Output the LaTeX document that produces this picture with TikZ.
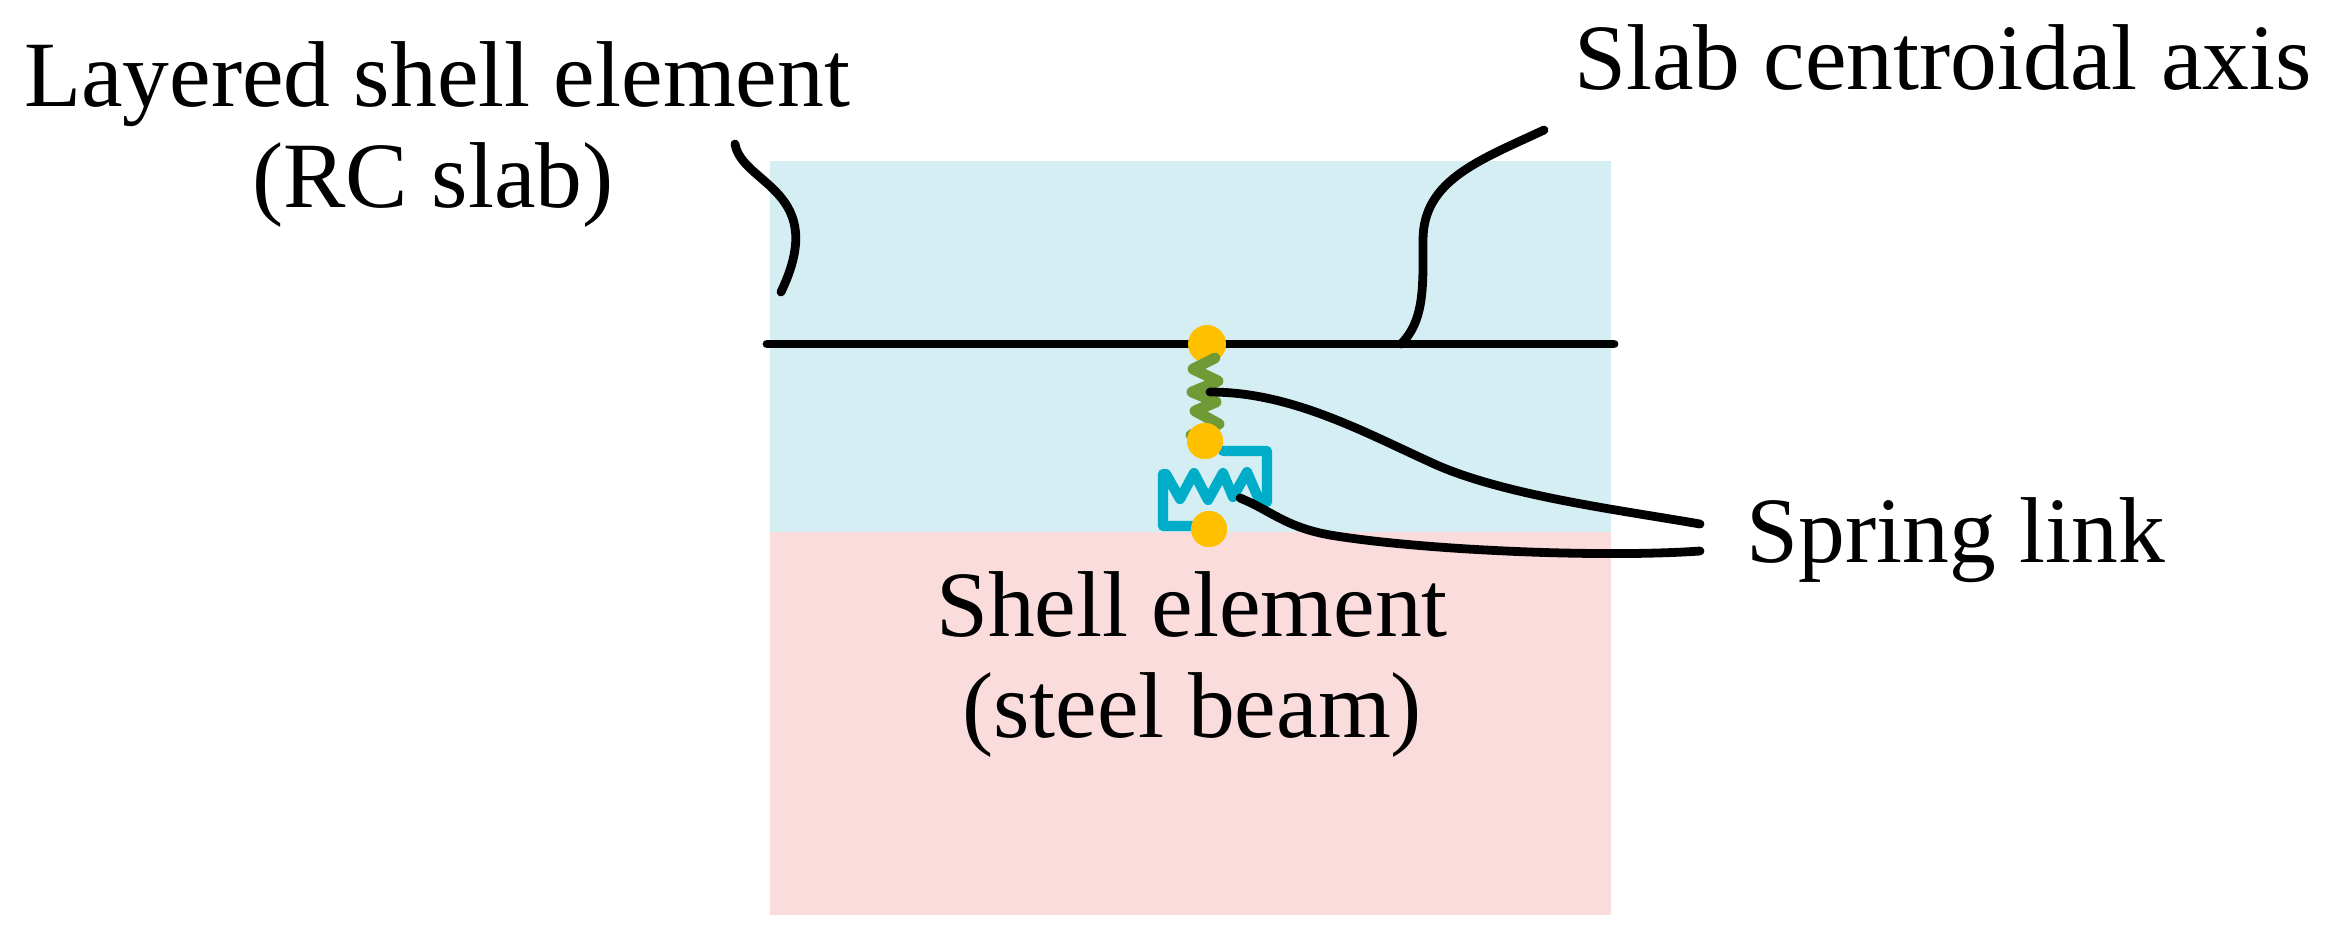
\documentclass[tikz,border=0pt]{standalone}
\usepackage{fontspec}
\setmainfont{Liberation Serif}
\usetikzlibrary{positioning,calc}
\definecolor{slabblue}{HTML}{D5EEF3}
\definecolor{beampink}{HTML}{F9DCDB}
\definecolor{dotyellow}{HTML}{FFC000}
\definecolor{springgreen}{HTML}{6F9A36}
\definecolor{springcyan}{HTML}{00ADC9}
\tikzset{
  lbl/.style={font=\fontsize{26.6}{30}\selectfont, anchor=base, inner sep=0pt},
  leader/.style={line width=2.5pt, black, line cap=round},
  dotnode/.style={circle, fill=dotyellow, inner sep=0pt, minimum size=#1*0.01cm}
}
\begin{document}
\begin{tikzpicture}[x=0.01cm,y=-0.01cm]
  \useasboundingbox (0,0) rectangle (2336,944);
  % regions
  \path[fill=slabblue] (770,161) rectangle (1611,532);
  \path[fill=beampink] (770,532) rectangle (1611,915);
  % centroidal axis
  \coordinate (axisL) at (767,344);
  \coordinate (axisR) at (1614,344);
  \draw[leader] (axisL) -- (axisR);
  % nodes
  \node[dotnode=38] (top) at (1207,344) {};
  % green spring, drawn before the middle dot
  \draw[line width=3.1pt, springgreen, line join=round, line cap=round]
    (1215,358) -- (1193,369) -- (1218,381) -- (1192,392) -- (1216,402) -- (1195,411) -- (1219,424) -- (1191,435);
  % cyan spring
  \coordinate (linkA) at (1267,451);
  \coordinate (linkB) at (1163,526);
  \node[dotnode=36] (mid) at (1205,441) {};
  \node[dotnode=36] (bot) at (1209,529) {};
  \draw[line width=2.9pt, springcyan, line join=round, line cap=round]
    (mid) ++(18,10) -- (linkA) -- (1267,502) -- (1260,502) -- (1247,472) -- (1233,497) -- (1223,473) -- (1208,500) -- (1194,473) -- (1180,499) -- (1166,474) -- (1163,474) -- (linkB) -- (linkB -| bot);
  \node[dotnode=36] at (mid) {};
  \node[dotnode=36] at (bot) {};
  % labels
  \node[lbl] (shelllbl) at (437,106) {Layered shell element};
  \node[lbl] (rclbl) at (433,207) {(RC slab)};
  \node[lbl] (axislbl) at (1943,89) {Slab centroidal axis};
  \node[lbl] (springlbl) at (1956,562) {Spring link};
  \node[lbl] (beamlbl) at (1192,636) {Shell element};
  \node[lbl] (steellbl) at (1192,737) {(steel beam)};
  % leaders
  \coordinate (leadA) at (735,144);
  \coordinate (leadB) at (1544,130);
  \coordinate (leadC) at (1700,524);
  \coordinate (leadD) at (1700,551);
  \draw[leader] (leadA) .. controls (742,185) and (830,190) .. (781,292);
  \draw[leader] (leadB) .. controls (1480,160) and (1423,180) .. (1423,240) .. controls (1423,285) and (1425,320) .. (1401,344);
  \draw[leader] (leadC) .. controls (1620,510) and (1500,495) .. (1430,462) .. controls (1360,430) and (1290,392) .. (1210,392);
  \draw[leader] (leadD) .. controls (1600,558) and (1420,550) .. (1330,535) .. controls (1285,527) and (1270,510) .. (1240,498);
\end{tikzpicture}
\end{document}
